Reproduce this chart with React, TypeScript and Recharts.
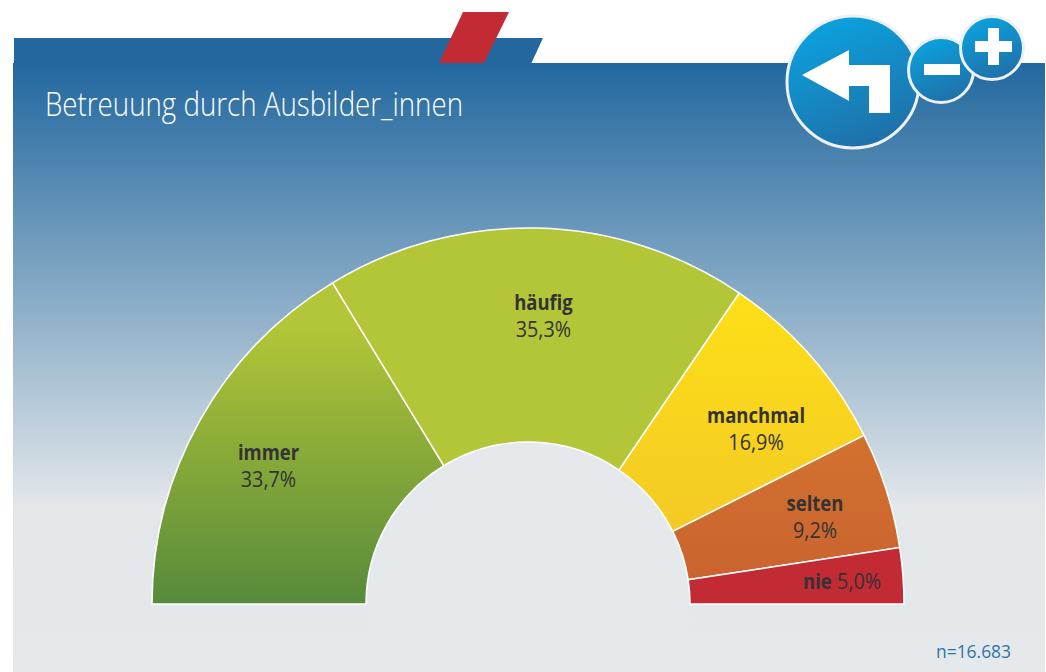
import { PieChart, Pie, Cell } from 'recharts';

const categories = ['immer', 'häufig', 'manchmal', 'selten', 'nie'];
// the printed percentages
const percentLabels = ['33,7%', '35,3%', '16,9%', '9,2%', '5,0%'];
// wedge sizes as drawn in the picture, they differ a little from the printed figures
const wedgeShares = [32.6, 36.4, 16.2, 10.0, 4.8];
const fills = ['url(#greenFill)', '#b3c637', 'url(#yellowFill)', 'url(#orangeFill)', '#c22a34'];
const labelRadius = [296, 296, 258, 298, 318];
const labelNudges = [
  { dx: -1.5, dy: 7 },
  { dx: 8, dy: 8 },
  { dx: 34, dy: -5 },
  { dx: 3, dy: 3 },
  { dx: -2, dy: 2 },
];

const chartData = categories.map((name, i) => ({ name, share: wedgeShares[i], text: percentLabels[i] }));

const font = '"Open Sans", sans-serif';
const RAD = Math.PI / 180;
const BOLD_SQUEEZE = 0.84;
const PLAIN_SQUEEZE = 0.9;

const renderLabel = (props: any) => {
  const { cx, cy, midAngle, index } = props;
  const r = labelRadius[index];
  const x = cx + r * Math.cos(-midAngle * RAD) + labelNudges[index].dx;
  const y = cy + r * Math.sin(-midAngle * RAD) + labelNudges[index].dy;
  if (index === 4) {
    // single line label, the wedge is too thin for two
    return (
      <g transform={`translate(${x},${y + 7})`} fontFamily={font} fontSize={22} fill="#333">
        <text transform={`translate(-40,0) scale(${BOLD_SQUEEZE},1)`} fontWeight={700}>{categories[index]}</text>
        <text transform={`translate(-6,0) scale(${PLAIN_SQUEEZE},1)`}>{percentLabels[index]}</text>
      </g>
    );
  }
  return (
    <g transform={`translate(${x},${y})`} fontFamily={font} fontSize={22} fill="#333" textAnchor="middle">
      <text transform={`translate(0,-6) scale(${BOLD_SQUEEZE},1)`} fontWeight={700}>{categories[index]}</text>
      <text transform={`translate(0,21) scale(${PLAIN_SQUEEZE},1)`}>{percentLabels[index]}</text>
    </g>
  );
};

export default function App() {
  return (
    <div style={{ position: 'absolute', left: 0, top: 0, width: 1046, height: 672, background: '#fff', overflow: 'hidden' }}>
      <svg width={1046} height={672} style={{ position: 'absolute', left: 0, top: 0 }}>
        <defs>
          <linearGradient id="panelFill" gradientUnits="userSpaceOnUse" x1="0" y1="63" x2="0" y2="672">
            <stop offset="0" stopColor="#22689f" />
            <stop offset="0.727" stopColor="#e3e7ea" />
            <stop offset="1" stopColor="#e5e9ec" />
          </linearGradient>
        </defs>
        <polygon points="14,38 543,38 531,64 14,64" fill="#22689f" />
        <rect x={13} y={63} width={1032} height={609} fill="url(#panelFill)" />
        <polygon points="463,12 509,12 484,63 439,63" fill="#c22a34" />
        <circle cx={528} cy={604} r={162} fill="#e5e9ec" />
        <rect x={360} y={604} width={340} height={4} fill="#e5e9ec" />
      </svg>

      <div style={{ position: 'absolute', left: 0, top: 0 }}>
        <PieChart width={1046} height={672} margin={{ top: 0, right: 0, bottom: 0, left: 0 }}>
          <defs>
            <linearGradient id="greenFill" gradientUnits="userSpaceOnUse" x1="0" y1="325" x2="0" y2="604">
              <stop offset="0" stopColor="#b3c637" />
              <stop offset="1" stopColor="#568a3b" />
            </linearGradient>
            <linearGradient id="yellowFill" gradientUnits="userSpaceOnUse" x1="0" y1="293" x2="0" y2="532">
              <stop offset="0" stopColor="#fedf17" />
              <stop offset="1" stopColor="#f3ca25" />
            </linearGradient>
            <linearGradient id="orangeFill" gradientUnits="userSpaceOnUse" x1="0" y1="436" x2="0" y2="580">
              <stop offset="0" stopColor="#d2722f" />
              <stop offset="1" stopColor="#ca632f" />
            </linearGradient>
          </defs>
          <Pie
            data={chartData}
            dataKey="share"
            nameKey="name"
            cx={528}
            cy={604}
            startAngle={180}
            endAngle={0}
            innerRadius={162}
            outerRadius={376}
            paddingAngle={0}
            stroke="#fff"
            strokeWidth={1.5}
            label={renderLabel}
            labelLine={false}
            isAnimationActive={false}
          >
            {chartData.map((d, i) => (
              <Cell key={d.name} fill={fills[i]} />
            ))}
          </Pie>
        </PieChart>
      </div>

      <svg width={1046} height={672} style={{ position: 'absolute', left: 0, top: 0 }}>
        <defs>
          <linearGradient id="btnFill" x1="0.3" y1="0" x2="0.7" y2="1">
            <stop offset="0" stopColor="#0aa3df" />
            <stop offset="1" stopColor="#206ea6" />
          </linearGradient>
        </defs>
        <text x={45} y={116} fontFamily={font} fontWeight={300} fontSize={33} fill="#fff" textLength={418} lengthAdjust="spacingAndGlyphs">
          Betreuung durch Ausbilder_innen
        </text>
        <text x={936} y={658} fontFamily={font} fontSize={19} fill="#2f74a8" textLength={75} lengthAdjust="spacingAndGlyphs">
          n=16.683
        </text>

        <circle cx={853} cy={82} r={66} fill="url(#btnFill)" stroke="#eef1f3" strokeWidth={3} />
        <polygon points="802,75 849,50 849,65 890,65 890,113 869,113 869,86 849,86 849,101" fill="#fff" />
        <circle cx={941} cy={70} r={32.5} fill="url(#btnFill)" stroke="#eef1f3" strokeWidth={3} />
        <rect x={924} y={64} width={36} height={11} fill="#fff" />
        <circle cx={992} cy={48} r={31.5} fill="url(#btnFill)" stroke="#eef1f3" strokeWidth={3} />
        <rect x={975} y={41} width={37} height={11} fill="#fff" />
        <rect x={988} y={28} width={11} height={37} fill="#fff" />
      </svg>
    </div>
  );
}
